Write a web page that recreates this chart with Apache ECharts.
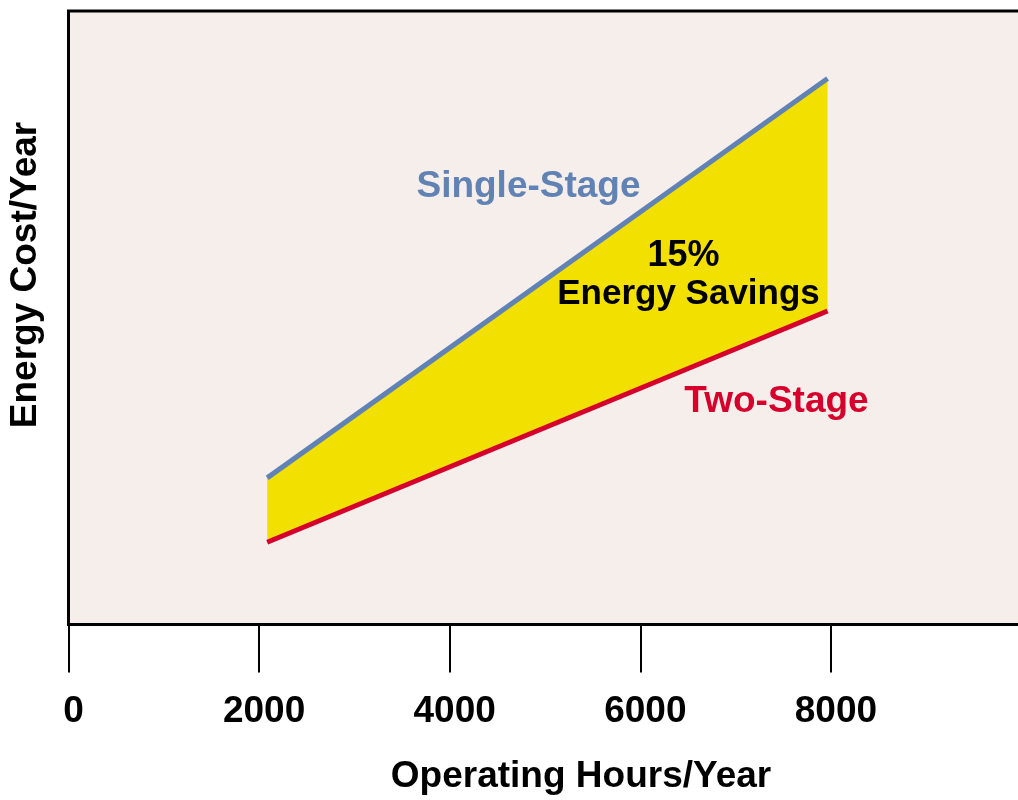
<!DOCTYPE html>
<html>
<head>
<meta charset="utf-8">
<script src="https://cdn.jsdelivr.net/npm/echarts@6/dist/echarts.min.js"></script>
<style>
  html, body { margin: 0; padding: 0; background: #ffffff; }
  #chart { width: 1018px; height: 800px; }
</style>
</head>
<body>
<div id="chart"></div>
<script>
// ---- data ----
const hours = [2085, 7965];            // operating hours/year (start, end)
const singleStage = [23.9, 89.0];      // energy cost/year (relative units)
const twoStage = [13.4, 51.1];         // energy cost/year (relative units)
const xTicks = [0, 2000, 4000, 6000, 8000];
const labels = {
  single: 'Single-Stage',
  two: 'Two-Stage',
  pct: '15%',
  savings: 'Energy Savings',
  xName: 'Operating Hours/Year',
  yName: 'Energy Cost/Year'
};

const FONT = '"Liberation Sans", Arial, Helvetica, sans-serif';
const BG = '#F6EEEB';
const YELLOW = '#F2E100';
const BLUE = '#6082B4';
const RED = '#D6002C';

const chart = echarts.init(document.getElementById('chart'), null, { renderer: 'canvas' });

const toPairs = (xs, ys) => xs.map((x, i) => [x, ys[i]]);

chart.setOption({
  backgroundColor: '#ffffff',
  animation: false,
  grid: {
    left: 68.5, width: 953, top: 11, bottom: 175.5,
    outerBoundsMode: 'none', containLabel: false,
    show: true, backgroundColor: BG, borderColor: '#000000', borderWidth: 3
  },
  xAxis: {
    type: 'value', min: 0, max: 10000, interval: 2000,
    axisLine: { show: false },
    axisTick: { show: true, length: 48, lineStyle: { color: '#000', width: 2 } },
    splitLine: { show: false },
    axisLabel: {
      show: true, margin: 69, color: '#000', fontSize: 37, fontWeight: 'bold', fontFamily: FONT,
      showMaxLabel: false, padding: [0, 0, 0, 10],
      formatter: v => (xTicks.indexOf(v) >= 0 ? String(v) : '')
    }
  },
  yAxis: {
    type: 'value', min: 0, max: 100,
    axisLine: { show: false }, axisTick: { show: false },
    axisLabel: { show: false }, splitLine: { show: false }
  },
  series: [
    {
      name: 'Savings band', type: 'custom', z: 1, silent: true,
      data: [0],
      renderItem: function (params, api) {
        const top = hours.map((h, i) => api.coord([h, singleStage[i]]));
        const bottom = hours.map((h, i) => api.coord([h, twoStage[i]])).reverse();
        return {
          type: 'polygon',
          shape: { points: top.concat(bottom) },
          style: { fill: YELLOW, stroke: null }
        };
      }
    },
    {
      name: labels.single, type: 'line', showSymbol: false, symbol: 'none',
      data: toPairs(hours, singleStage),
      lineStyle: { color: BLUE, width: 5 },
      z: 2
    },
    {
      name: labels.two, type: 'line', showSymbol: false, symbol: 'none',
      data: toPairs(hours, twoStage),
      lineStyle: { color: RED, width: 5 },
      z: 3
    }
  ],
  graphic: [
    { type: 'text', x: 528.5, y: 187, z: 10,
      style: { text: labels.single, fill: BLUE, font: 'bold 37px ' + FONT, align: 'center', verticalAlign: 'middle' } },
    { type: 'text', x: 683.5, y: 256, z: 10,
      style: { text: labels.pct, fill: '#000', font: 'bold 36px ' + FONT, align: 'center', verticalAlign: 'middle' } },
    { type: 'text', x: 688.5, y: 294, z: 10,
      style: { text: labels.savings, fill: '#000', font: 'bold 35px ' + FONT, align: 'center', verticalAlign: 'middle' } },
    { type: 'text', x: 776.5, y: 402, z: 10,
      style: { text: labels.two, fill: RED, font: 'bold 37px ' + FONT, align: 'center', verticalAlign: 'middle' } },
    { type: 'text', x: 581, y: 777, z: 10,
      style: { text: labels.xName, fill: '#000', font: 'bold 37px ' + FONT, align: 'center', verticalAlign: 'middle' } },
    { type: 'text', x: 26, y: 275, rotation: Math.PI / 2, z: 10,
      style: { text: labels.yName, fill: '#000', font: 'bold 37px ' + FONT, align: 'center', verticalAlign: 'middle' } }
  ]
});
</script>
</body>
</html>
